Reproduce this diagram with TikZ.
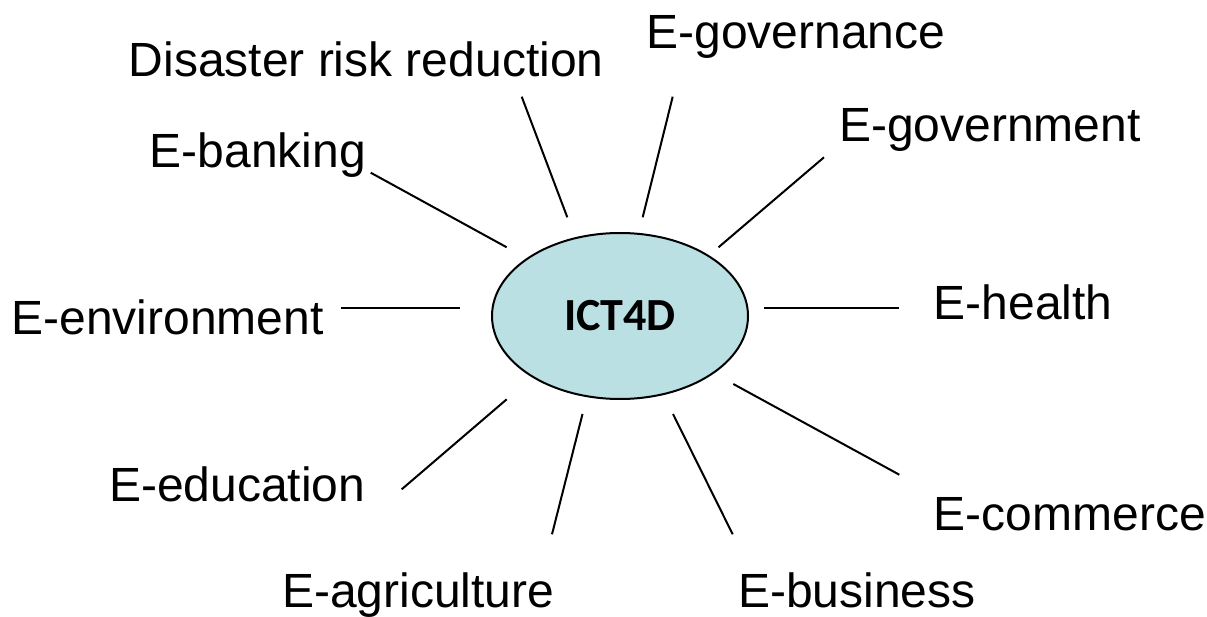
\documentclass[tikz,border=0pt]{standalone}
\usepackage{fontspec}
\setmainfont{Liberation Sans}
\newfontfamily\calibri{Carlito}
\usetikzlibrary{shapes.geometric}
\definecolor{ellfill}{RGB}{186,224,228}
\begin{document}
\begin{tikzpicture}[x=1pt,y=-1pt,
  lbl/.style={anchor=base west,inner sep=0pt,font=\fontsize{48}{56}\selectfont},
  spoke/.style={draw=black,line width=2pt},
  hub/.style={ellipse,draw=black,line width=2pt,fill=ellfill,minimum width=256pt,minimum height=166pt,inner sep=0pt,font=\calibri\bfseries\fontsize{46}{54}\selectfont}]
\useasboundingbox (0,0) rectangle (1207,617);
\node[hub] (hub) at (620,316) {ICT4D};
% labels
\node[lbl] (drr) at (128.5,76.7) {Disaster risk reduction};
\node[lbl] (egov) at (646.2,48.3) {E-governance};
\node[lbl] (ebank) at (149.5,167.7) {E-banking};
\node[lbl] (egovt) at (838.9,141.7) {E-government};
\node[lbl] (eenv) at (11.2,335) {E-environment};
\node[lbl] (ehealth) at (933.5,319.3) {E-health};
\node[lbl] (eedu) at (108.9,501.7) {E-education};
\node[lbl] (ecom) at (933.5,530) {E-commerce};
\node[lbl] (eagri) at (282,607.8) {E-agriculture};
\node[lbl] (ebus) at (737.9,607.8) {E-business};
% spoke end points
\coordinate (ebankA) at (370.7,172.7);  \coordinate (ebankB) at (506.7,247.3);
\coordinate (drrA) at (521.7,96.7);     \coordinate (drrB) at (567.3,217.3);
\coordinate (egovA) at (672.7,96.7);    \coordinate (egovB) at (642.7,217.3);
\coordinate (egovtA) at (824,157.3);    \coordinate (egovtB) at (718.5,247.3);
\coordinate (eenvA) at (341,308);       \coordinate (eenvB) at (460,308);
\coordinate (ehealthA) at (764,308);    \coordinate (ehealthB) at (899,308);
\coordinate (eeduA) at (401.7,489.3);   \coordinate (eeduB) at (506.7,399.3);
\coordinate (eagriA) at (552,534.3);    \coordinate (eagriB) at (582.5,414);
\coordinate (ebusA) at (673,414);       \coordinate (ebusB) at (732.7,534.3);
\coordinate (ecomA) at (733.3,384);     \coordinate (ecomB) at (899.3,474.7);
\draw[spoke] (ebankA) -- (ebankB);
\draw[spoke] (drrA) -- (drrB);
\draw[spoke] (egovA) -- (egovB);
\draw[spoke] (egovtA) -- (egovtB);
\draw[spoke] (eenvA) -- (eenvB);
\draw[spoke] (ehealthA) -- (ehealthB);
\draw[spoke] (eeduA) -- (eeduB);
\draw[spoke] (eagriA) -- (eagriB);
\draw[spoke] (ebusA) -- (ebusB);
\draw[spoke] (ecomA) -- (ecomB);
\end{tikzpicture}
\end{document}
